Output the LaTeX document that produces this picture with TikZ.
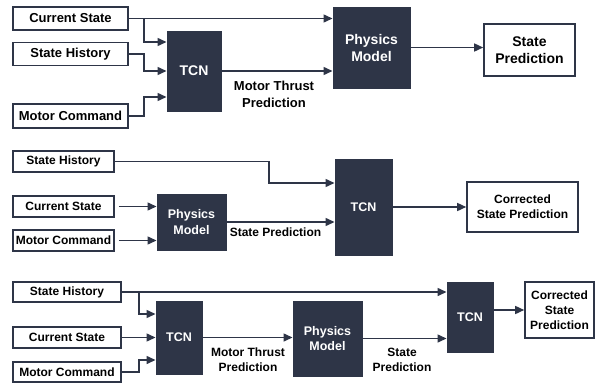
\documentclass[tikz,border=0pt]{standalone}
\usepackage{fontspec}
\setmainfont{Liberation Sans}
\usetikzlibrary{arrows.meta,calc}
\definecolor{navy}{HTML}{2E3547}
\newcommand\szA{\fontsize{13}{17}\selectfont}
\newcommand\szD{\fontsize{14}{17}\selectfont}
\newcommand\szB{\fontsize{12}{15}\selectfont}
\newcommand\szC{\fontsize{12.5}{15.5}\selectfont}
\begin{document}
\begin{tikzpicture}[x=1pt,y=-1pt,
  wbox/.style={draw=navy,line width=1.6pt,fill=white,inner sep=0pt,align=center,text=black},
  dbox/.style={draw=navy,fill=navy,line width=1pt,inner sep=0pt,align=center,text=white},
  arr/.style={draw=navy,line width=1.5pt,-{Triangle[length=9pt,width=8pt]}},
  lbl/.style={align=center,inner sep=0pt,text=black}]
\useasboundingbox[fill=white] (0,0) rectangle (605,383);
% ---------- panel 1
\node[wbox,font=\bfseries\szA,minimum width=115pt,minimum height=23pt] (cs1) at (70.5,18.5) {Current State};
\node[wbox,font=\bfseries\szA,minimum width=115pt,minimum height=23pt] (sh1) at (70.5,54) {State History};
\node[wbox,font=\bfseries\szA,minimum width=115pt,minimum height=24pt] (mc1) at (70.5,116) {Motor Command};
\node[dbox,font=\bfseries\szD,minimum width=54pt,minimum height=80pt] (tcn1) at (194,71) {TCN};
\node[dbox,font=\bfseries\szD,minimum width=77pt,minimum height=81pt] (pm1) at (371.5,47.5) {Physics\\Model};
\node[wbox,font=\bfseries\szD,minimum width=91pt,minimum height=52pt] (sp1) at (529.5,50) {State\\Prediction};
\draw[arr] (cs1.east) -- (pm1.west |- cs1.east);
\draw[arr] ($(cs1.east)+(15,0)$) |- (tcn1.west |- 0,42);
\draw[arr] (sh1.east) -- ++(15,0) |- (tcn1.west);
\draw[arr] (mc1.east) -- ++(15,0) |- (tcn1.west |- 0,97);
\draw[arr] (tcn1.east) -- (pm1.west |- tcn1.east);
\draw[arr] (pm1.east) -- (sp1.west |- pm1.east);
\node[lbl,font=\bfseries\szA] (l1) at (274,94.5) {Motor Thrust\\Prediction};
% ---------- panel 2
\node[wbox,font=\bfseries\szB,minimum width=101pt,minimum height=21pt] (sh2) at (63.5,161.5) {State History};
\node[wbox,font=\bfseries\szB,minimum width=101pt,minimum height=21pt] (cs2) at (63.5,206.5) {Current State};
\node[wbox,font=\bfseries\szB,minimum width=101pt,minimum height=21pt] (mc2) at (63.5,240.5) {Motor Command};
\node[dbox,font=\bfseries\szC,minimum width=69pt,minimum height=56pt] (pm2) at (191.5,222) {Physics\\Model};
\node[dbox,font=\bfseries\szC,minimum width=57pt,minimum height=96pt] (tcn2) at (363.5,207) {TCN};
\node[wbox,font=\bfseries\szB,minimum width=111pt,minimum height=50pt] (csp2) at (522.5,207) {Corrected\\State Prediction};
\draw[arr] (sh2.east) -| (269,183) -- (tcn2.west |- 269,183);
\draw[arr,shorten <=4pt] (cs2.east) -- (pm2.west |- cs2.east);
\draw[arr,shorten <=4pt] (mc2.east) -- (pm2.west |- mc2.east);
\draw[arr] (pm2.east) -- (tcn2.west |- pm2.east);
\draw[arr] (tcn2.east) -- (csp2.west);
\node[lbl,font=\bfseries\szB] (l2) at (275.5,232) {State Prediction};
% ---------- panel 3
\node[wbox,font=\bfseries\szB,minimum width=108pt,minimum height=20pt] (sh3) at (67,292) {State History};
\node[wbox,font=\bfseries\szB,minimum width=108pt,minimum height=21pt] (cs3) at (67,337.5) {Current State};
\node[wbox,font=\bfseries\szB,minimum width=108pt,minimum height=20pt] (mc3) at (67,372) {Motor Command};
\node[dbox,font=\bfseries\szC,minimum width=46pt,minimum height=73pt] (tcn3) at (179,337.5) {TCN};
\node[dbox,font=\bfseries\szC,minimum width=69pt,minimum height=75pt] (pm3) at (327.5,338.5) {Physics\\Model};
\node[dbox,font=\bfseries\szC,minimum width=46pt,minimum height=70pt] (tcn4) at (470,317) {TCN};
\node[wbox,font=\bfseries\szB,minimum width=69pt,minimum height=56pt] (csp3) at (559.5,310) {Corrected\\State\\Prediction};
\draw[arr] (sh3.east) -- (tcn4.west |- sh3.east);
\draw[arr] ($(sh3.east)+(17,0)$) |- (tcn3.west |- 0,314);
\draw[arr] (cs3.east) -- (tcn3.west |- cs3.east);
\draw[arr] (mc3.east) -- ++(17,0) |- (tcn3.west |- 0,360);
\draw[arr] (tcn3.east) -- (pm3.west |- tcn3.east);
\draw[arr] (pm3.east) -- (tcn4.west |- pm3.east);
\draw[arr] (tcn4.east |- csp3.west) -- (csp3.west);
\node[lbl,font=\bfseries\szB] (l3) at (248,360) {Motor Thrust\\Prediction};
\node[lbl,font=\bfseries\szB] (l4) at (402,359.5) {State\\Prediction};
\end{tikzpicture}
\end{document}
